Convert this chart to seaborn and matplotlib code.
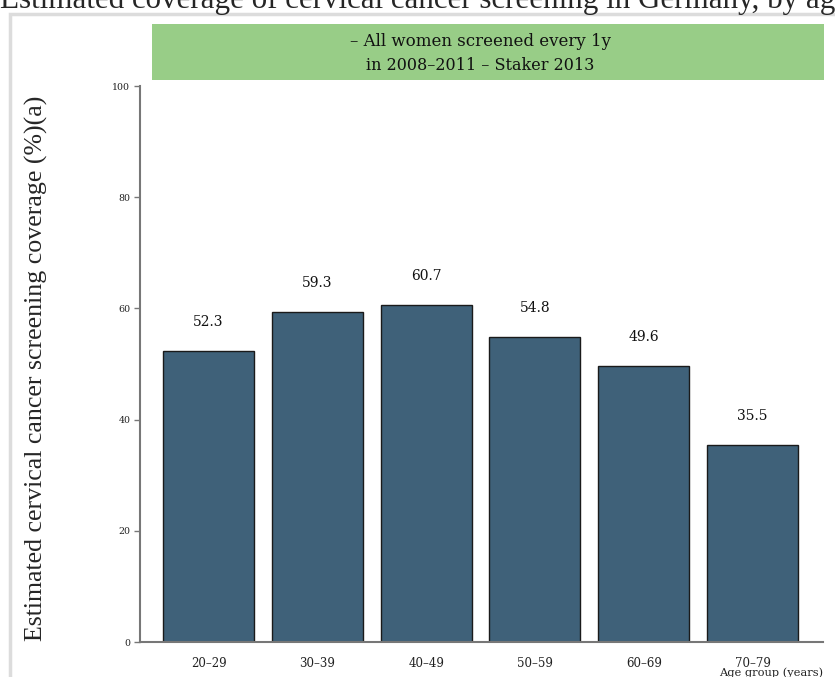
import numpy as np
import pandas as pd
import seaborn as sns
import matplotlib.pyplot as plt
from matplotlib.patches import Rectangle

age_groups = ['20–29', '30–39', '40–49', '50–59', '60–69', '70–79']
coverage = [52.3, 59.3, 60.7, 54.8, 49.6, 35.5]
y_ticks = [0, 20, 40, 60, 80, 100]

df = pd.DataFrame({'age': age_groups, 'coverage': coverage})

sns.set_style('white')
plt.rcParams['font.family'] = ['DejaVu Serif']

W, H = 835, 677
fig = plt.figure(figsize=(W / 100, H / 100), dpi=100)

# light grey frame round the panel
fig.patches.append(Rectangle((10 / W, -0.05), 1.1, 1 - 14 / H + 0.05, transform=fig.transFigure,
                             fill=False, edgecolor='#dcdcdc', linewidth=2.5, zorder=0))

ax = fig.add_axes([140 / W, 1 - 642 / H, (823 - 140) / W, (642 - 86) / H])
ax.patch.set_alpha(0)

sns.barplot(data=df, x='age', y='coverage', order=age_groups, color='#3f6179',
            saturation=1, width=0.836, edgecolor='#1a1a1a', linewidth=1, ax=ax)

for i, v in enumerate(coverage):
    ax.text(i, v + 5.2, f'{v:.1f}', ha='center', va='center', fontsize=10, color='#111111')

ax.set_ylim(0, 100)
ax.set_xlim(-0.63, 5.648)
ax.set_yticks(y_ticks)
ax.set_yticklabels([str(t) for t in y_ticks], fontsize=6.8, color='#222222')
ax.tick_params(axis='y', which='both', left=True, length=4, width=1, color='#777777', pad=3)
ax.tick_params(axis='x', bottom=False, labelsize=8.5, labelcolor='#222222', pad=7)
ax.set_xlabel('')
ax.set_ylabel('')
for s in ['top', 'right']:
    ax.spines[s].set_visible(False)
for s in ['left', 'bottom']:
    ax.spines[s].set_color('#777777')
    ax.spines[s].set_linewidth(1.5)

# green header box
fig.patches.append(Rectangle((152 / W, 1 - 80 / H), (824 - 152) / W, 56 / H, transform=fig.transFigure,
                             facecolor='#98cd87', edgecolor='none', zorder=1))
fig.text(480 / W, 1 - 41 / H, '– All women screened every 1y', ha='center', va='center', fontsize=12, color='#111111')
fig.text(480 / W, 1 - 65 / H, 'in 2008–2011 – Staker 2013', ha='center', va='center', fontsize=11.5, color='#111111')

fig.text(0, 1 - 8 / H, 'Estimated coverage of cervical cancer screening in Germany, by age',
         ha='left', va='baseline', fontsize=22.3, family='Liberation Serif')
fig.text(36 / W, 1 - 368 / H, 'Estimated cervical cancer screening coverage (%)(a)',
         rotation=90, ha='center', va='center', fontsize=18.6, family='Liberation Serif')
fig.text(823 / W, 1 - 673 / H, 'Age group (years)', ha='right', va='center', fontsize=8.2, color='#222222')

fig.savefig('out.png', dpi=100)
